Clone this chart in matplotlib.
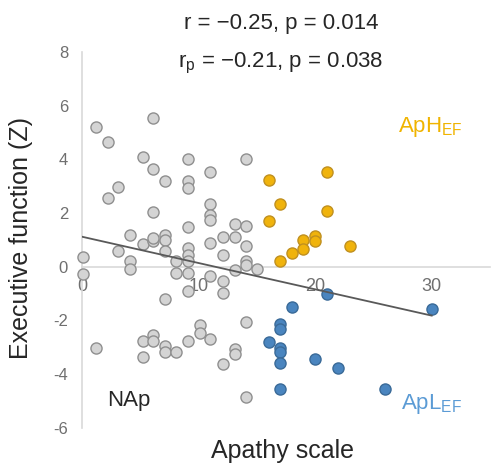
import matplotlib
matplotlib.use("Agg")
import matplotlib.pyplot as plt
import numpy as np

plt.rcParams['font.family'] = ['Liberation Sans', 'DejaVu Sans']
plt.rcParams['mathtext.fontset'] = 'custom'
plt.rcParams['mathtext.rm'] = 'Liberation Sans'
plt.rcParams['mathtext.it'] = 'Liberation Sans'
plt.rcParams['axes.unicode_minus'] = False

# NAp group (grey)
nap_x = [1.2, 2.2, 6.1, 5.2, 6.1, 7.1, 9.1, 9.1, 9.1, 11.0, 14.1, 3.1, 2.2, 6.1,
         11.0, 11.0, 11.0, 9.1, 13.1, 14.1, 4.1, 5.2, 6.1, 6.1, 7.1, 7.1, 7.1,
         3.1, 4.1, 4.1, 0.1, 0.1, 8.1, 8.1, 9.1, 9.1, 9.1, 9.1, 9.1, 11.0, 12.1,
         13.1, 14.1, 12.1, 14.1, 14.1, 13.1, 15.0, 11.0, 12.1, 12.1, 7.1,
         1.2, 5.2, 6.1, 6.1, 5.2, 7.1, 7.1, 8.1, 9.1, 10.1, 10.1, 11.0, 13.1,
         13.1, 12.1, 14.1, 14.1]
nap_y = [5.2, 4.65, 5.55, 4.1, 3.65, 3.2, 4.0, 3.2, 2.95, 3.55, 4.03, 2.97, 2.57, 2.04,
         2.34, 1.94, 1.73, 1.47, 1.61, 1.51, 1.2, 0.86, 0.95, 1.07, 1.2, 1.0, 0.57,
         0.57, 0.22, -0.09, 0.35, -0.27, 0.22, -0.24, 0.7, 0.45, 0.2, -0.24, -0.89, 0.88, 1.11,
         1.11, 0.76, 0.45, 0.22, 0.08, -0.11, -0.09, -0.34, -0.52, -0.98, -1.2,
         -3.02, -2.77, -2.54, -2.78, -3.38, -2.95, -3.17, -3.17, -2.75, -2.17, -2.45, -2.69, -3.07,
         -3.25, -3.64, -2.04, -4.87]

# ApH_EF group (yellow)
aph_x = [16.0, 21.0, 17.0, 16.0, 21.0, 20.0, 20.0, 19.0, 19.0, 18.0, 17.0, 23.0]
aph_y = [3.23, 3.55, 2.33, 1.71, 2.06, 1.16, 0.95, 0.98, 0.67, 0.53, 0.22, 0.76]

# ApL_EF group (blue)
apl_x = [18.0, 21.0, 30.0, 17.0, 17.0, 16.0, 17.0, 17.0, 17.0, 20.0, 22.0, 17.0, 26.0]
apl_y = [-1.51, -1.01, -1.58, -2.13, -2.33, -2.79, -3.04, -3.17, -3.58, -3.45, -3.79, -4.54, -4.54]

# regression line
fit_x = [0, 30]
fit_intercept = 1.12
fit_slope = -0.098

xticks = [0, 10, 20, 30]
yticks = [-6, -4, -2, 0, 2, 4, 6, 8]

fig = plt.figure(figsize=(4.91, 4.65), dpi=100)
ax = fig.add_axes([0.167, 0.080, 0.831, 0.808])

ms = 64
ax.scatter(nap_x, nap_y, s=ms, c='#d4d4d4', edgecolors='#8f8f8f', linewidths=1, zorder=3, clip_on=False)
ax.scatter(aph_x, aph_y, s=ms, c='#f0b30c', edgecolors='#c09020', linewidths=1, zorder=3, clip_on=False)
ax.scatter(apl_x, apl_y, s=ms, c='#4a85bf', edgecolors='#3a6a98', linewidths=1, zorder=3, clip_on=False)

fx = np.array(fit_x)
ax.plot(fx, fit_intercept + fit_slope * fx, color='#595959', lw=1.3, zorder=4)

ax.set_xlim(0, 35)
ax.set_ylim(-6, 8)
ax.set_xticks(xticks)
ax.set_yticks(yticks)

for s in ['top', 'right']:
    ax.spines[s].set_visible(False)
ax.spines['left'].set_position(('data', 0))
ax.spines['bottom'].set_position(('data', 0))
ax.spines['left'].set_color('#d9d9d9')
ax.spines['bottom'].set_color('#d9d9d9')
ax.spines['left'].set_linewidth(1.2)
ax.spines['bottom'].set_linewidth(1.2)
ax.tick_params(axis='x', length=0, pad=8, labelsize=13, labelcolor='#6f6f6f')
ax.tick_params(axis='y', length=0, pad=10, labelsize=12, labelcolor='#6f6f6f')

fig.text(0.043, 0.489, 'Executive function (Z)', rotation=90, ha='center', va='center',
         fontsize=18, color='#262626')
fig.text(0.576, 0.015, 'Apathy scale', ha='center', va='baseline', fontsize=18, color='#262626')

fig.text(0.572, 1 - 29 / 465, 'r = \u22120.25, p = 0.014', ha='center', va='baseline',
         fontsize=16, color='#262626')
fig.text(0.572, 1 - 67 / 465, 'r$_\\mathrm{p}$ = \u22120.21, p = 0.038',
         ha='center', va='baseline', fontsize=16, color='#262626')

ax.text(4.05, -4.97, 'NAp', ha='center', va='center', fontsize=16, color='#262626')
ax.text(29.9, 5.2, r'ApH$_\mathrm{EF}$', ha='center', va='center', fontsize=16, color='#f0b400')
ax.text(30.0, -5.1, r'ApL$_\mathrm{EF}$', ha='center', va='center', fontsize=16, color='#5b9bd5')

fig.savefig('out.png', dpi=100)
